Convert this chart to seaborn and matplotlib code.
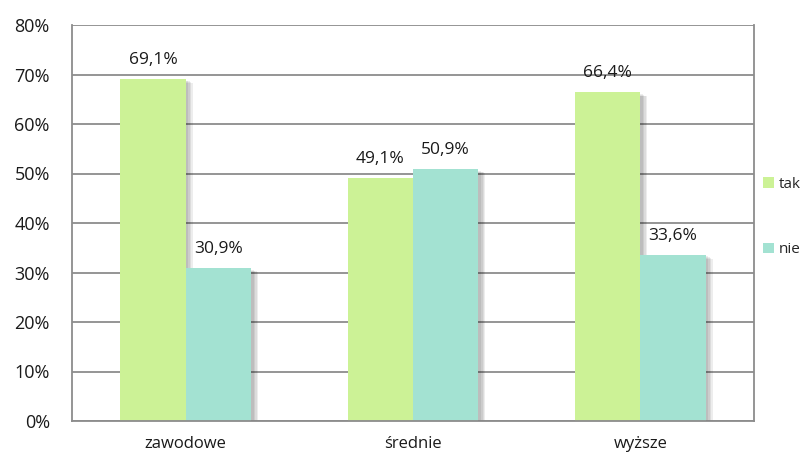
import matplotlib
matplotlib.use("Agg")
import matplotlib.pyplot as plt
import matplotlib.patheffects as pe
import seaborn as sns
import pandas as pd

categories = ["zawodowe", "średnie", "wyższe"]
series_names = ["tak", "nie"]
tak_values = [69.1, 49.1, 66.4]
nie_values = [30.9, 50.9, 33.6]
y_ticks = [0, 10, 20, 30, 40, 50, 60, 70, 80]
colors = ["#CCF296", "#A3E2D2"]

df = pd.DataFrame({
    "kategoria": categories * 2,
    "odpowiedz": [series_names[0]] * 3 + [series_names[1]] * 3,
    "wartosc": tak_values + nie_values,
})

sns.set_theme(style="white")
plt.rcParams["font.family"] = ["Open Sans", "DejaVu Sans"]

fig = plt.figure(figsize=(8.12, 4.58), dpi=100)
ax = fig.add_axes([72 / 812, 37 / 458, 682 / 812, 396 / 458])

sns.barplot(data=df, x="kategoria", y="wartosc", hue="odpowiedz",
            order=categories, hue_order=series_names, palette=colors,
            width=0.575, saturation=1, ax=ax, legend=True)

# soft drop shadow built from a few faint offset layers
shadow = [pe.SimplePatchShadow(offset=(d, -d * 0.6), shadow_rgbFace="#000000", alpha=0.07)
          for d in (5, 4, 3, 2)] + [pe.Normal()]
for patch in ax.patches:
    patch.set_linewidth(0)
    patch.set_path_effects(shadow)

for container in ax.containers:
    labels = [f"{v:.1f}%".replace(".", ",") for v in container.datavalues]
    ax.bar_label(container, labels=labels, padding=8, fontsize=12.5, color="#1a1a1a")

ax.set_ylim(0, 80)
ax.set_xlim(-0.5, 2.5)
ax.set_yticks(y_ticks)
ax.set_yticklabels([f"{t}%" for t in y_ticks], fontsize=13, color="#1a1a1a")
ax.yaxis.grid(True, color="#8C8C8C", linewidth=1.3)
ax.set_axisbelow(True)

ax.set_xticks([0, 1, 2])
ax.set_xticklabels(categories, fontsize=12, color="#1a1a1a")
ax.set_xticks([-0.5, 0.5, 1.5, 2.5], minor=True)
ax.tick_params(axis="x", which="major", length=0, pad=11)
ax.tick_params(axis="x", which="minor", length=6, width=1.3, color="#8C8C8C", direction="out")
ax.tick_params(axis="y", length=7, width=1.3, color="#8C8C8C", direction="out", pad=9)

ax.set_xlabel("")
ax.set_ylabel("")
for side in ["left", "bottom", "right"]:
    ax.spines[side].set_visible(True)
    ax.spines[side].set_color("#8C8C8C")
    ax.spines[side].set_linewidth(1.3)
ax.spines["top"].set_visible(False)

leg = ax.legend(loc="center left", bbox_to_anchor=(1.0, 0.515), frameon=False,
                fontsize=11, handlelength=0.7, handleheight=0.7, handletextpad=0.3,
                labelspacing=3.3, borderaxespad=0.4, borderpad=0.2)
for h in leg.legend_handles:
    h.set_path_effects([])
    h.set_linewidth(0)

fig.savefig("out.png", dpi=100)
